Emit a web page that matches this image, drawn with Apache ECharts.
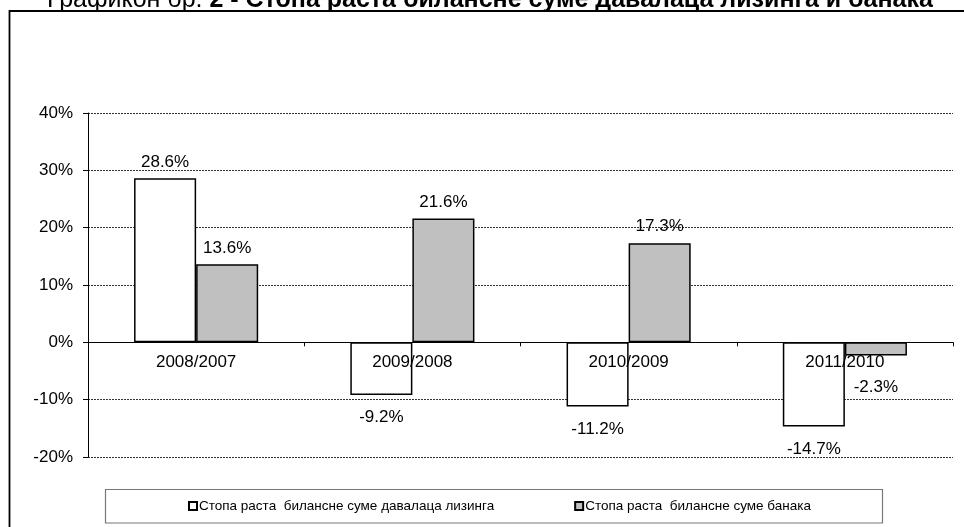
<!DOCTYPE html>
<html>
<head>
<meta charset="utf-8">
<script src="https://cdn.jsdelivr.net/npm/echarts@6/dist/echarts.min.js"></script>
<style>
html,body{margin:0;padding:0;background:#fff;}
#chart{width:964px;height:527px;}
</style>
</head>
<body>
<div id="chart"></div>
<script>
var categories = ['2008/2007', '2009/2008', '2010/2009', '2011/2010'];
var leasingValues = [28.6, -9.2, -11.2, -14.7];
var bankValues = [13.6, 21.6, 17.3, -2.3];
var seriesNames = ['Стопа раста  билансне суме давалаца лизинга', 'Стопа раста  билансне суме банака'];
var yTicks = { min: -20, max: 40, interval: 10 };

var gridTop = 113, gridBottom = 70, chartH = 527;
var gridH = chartH - gridTop - gridBottom;
var zeroOffset = -gridH * (0 - yTicks.min) / (yTicks.max - yTicks.min);

function toItems(arr) {
  return arr.map(function (v) {
    var neg = v < 0;
    return {
      value: v,
      label: { position: neg ? 'bottom' : 'top', distance: neg ? (Math.abs(v) < 5 ? 23 : 14) : 8 }
    };
  });
}

var chart = echarts.init(document.getElementById('chart'));
var labelFont = 'Liberation Sans, Arial, sans-serif';
chart.setOption({
  animation: false,
  backgroundColor: '#fff',
  title: {
    text: '{n|Графикон бр. }{b|2 - Стопа раста билансне суме давалаца лизинга и банака}',
    left: 42,
    top: -17,
    textStyle: {
      rich: {
        n: { fontFamily: labelFont, fontSize: 25, fontWeight: 'normal', color: '#000' },
        b: { fontFamily: labelFont, fontSize: 25, fontWeight: 'bold', color: '#000' }
      }
    }
  },
  graphic: [
    { type: 'rect', shape: { x: 9.5, y: 11, width: 1000, height: 600 }, style: { fill: 'none', stroke: '#000', lineWidth: 1.8 }, z: -1 },
    { type: 'rect', shape: { x: 105.5, y: 489.5, width: 777, height: 33.5 }, style: { fill: '#fff', stroke: '#777', lineWidth: 1.2 }, z: 1 }
  ],
  grid: { left: 88, right: 11, top: gridTop, bottom: gridBottom, containLabel: false },
  legend: {
    left: 183,
    top: 494,
    itemWidth: 8,
    itemHeight: 8,
    itemGap: 80,
    z: 5,
    textStyle: { fontFamily: labelFont, fontSize: 13.5, color: '#000', padding: [0, 0, 0, -3] },
    data: [
      { name: seriesNames[0], icon: 'rect' },
      { name: seriesNames[1], icon: 'rect' }
    ]
  },
  xAxis: {
    type: 'category',
    data: categories,
    offset: zeroOffset,
    z: 5,
    axisLine: { onZero: false, lineStyle: { color: '#000', width: 1 } },
    axisTick: { show: true, length: 4, lineStyle: { color: '#000' } },
    axisLabel: { fontFamily: labelFont, fontSize: 17, color: '#000', margin: 11 },
    splitLine: { show: false }
  },
  yAxis: {
    type: 'value',
    min: yTicks.min,
    max: yTicks.max,
    interval: yTicks.interval,
    axisLine: { show: true, lineStyle: { color: '#000', width: 1 } },
    axisTick: { show: true, length: 5, lineStyle: { color: '#000' } },
    axisLabel: { fontFamily: labelFont, fontSize: 17, color: '#000', margin: 15, formatter: '{value}%' },
    splitLine: { show: true, lineStyle: { color: '#333', type: [2, 1], width: 1 } }
  },
  series: [
    {
      name: seriesNames[0],
      type: 'bar',
      data: toItems(leasingValues),
      barWidth: '28.7%',
      barGap: '0%',
      itemStyle: { color: '#fff', borderColor: '#000', borderWidth: 1.5 },
      label: { show: true, fontFamily: labelFont, fontSize: 17, color: '#000', formatter: function (p) { return p.value.toFixed(1) + '%'; } }
    },
    {
      name: seriesNames[1],
      type: 'bar',
      data: toItems(bankValues),
      barWidth: '28.7%',
      barGap: '0%',
      itemStyle: { color: '#c0c0c0', borderColor: '#000', borderWidth: 1.5 },
      label: { show: true, fontFamily: labelFont, fontSize: 17, color: '#000', formatter: function (p) { return p.value.toFixed(1) + '%'; } }
    }
  ]
});
</script>
</body>
</html>
